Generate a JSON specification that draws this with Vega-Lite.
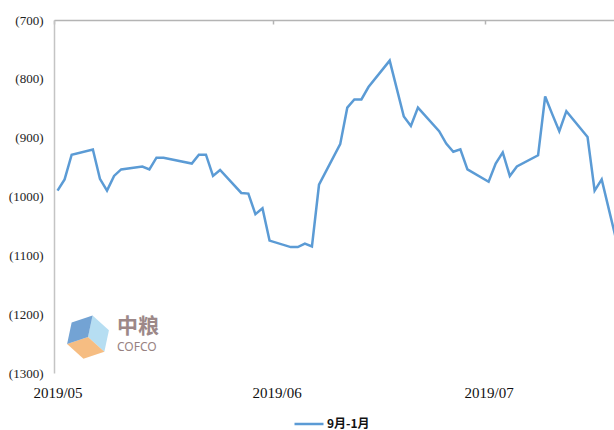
{
  "$schema": "https://vega.github.io/schema/vega-lite/v6.json",
  "autosize": "none",
  "width": 560,
  "height": 353,
  "padding": {"left": 54, "top": 20, "right": 0, "bottom": 57},
  "background": "#ffffff",
  "config": {"view": {"stroke": null}},
  "datasets": {
    "spread": [
      {"date": "2019-05-01", "value": -990},
      {"date": "2019-05-02", "value": -971},
      {"date": "2019-05-03", "value": -929},
      {"date": "2019-05-06", "value": -920},
      {"date": "2019-05-07", "value": -970},
      {"date": "2019-05-08", "value": -990},
      {"date": "2019-05-09", "value": -965},
      {"date": "2019-05-10", "value": -954},
      {"date": "2019-05-13", "value": -949},
      {"date": "2019-05-14", "value": -954},
      {"date": "2019-05-15", "value": -934},
      {"date": "2019-05-16", "value": -934},
      {"date": "2019-05-20", "value": -944},
      {"date": "2019-05-21", "value": -929},
      {"date": "2019-05-22", "value": -929},
      {"date": "2019-05-23", "value": -965},
      {"date": "2019-05-24", "value": -955},
      {"date": "2019-05-27", "value": -994},
      {"date": "2019-05-28", "value": -995},
      {"date": "2019-05-29", "value": -1030},
      {"date": "2019-05-30", "value": -1020},
      {"date": "2019-05-31", "value": -1075},
      {"date": "2019-06-03", "value": -1086},
      {"date": "2019-06-04", "value": -1086},
      {"date": "2019-06-05", "value": -1080},
      {"date": "2019-06-06", "value": -1085},
      {"date": "2019-06-07", "value": -980},
      {"date": "2019-06-10", "value": -911},
      {"date": "2019-06-11", "value": -849},
      {"date": "2019-06-12", "value": -835},
      {"date": "2019-06-13", "value": -835},
      {"date": "2019-06-14", "value": -814},
      {"date": "2019-06-17", "value": -769},
      {"date": "2019-06-19", "value": -864},
      {"date": "2019-06-20", "value": -880},
      {"date": "2019-06-21", "value": -849},
      {"date": "2019-06-24", "value": -889},
      {"date": "2019-06-25", "value": -910},
      {"date": "2019-06-26", "value": -924},
      {"date": "2019-06-27", "value": -920},
      {"date": "2019-06-28", "value": -954},
      {"date": "2019-07-01", "value": -975},
      {"date": "2019-07-02", "value": -944},
      {"date": "2019-07-03", "value": -925},
      {"date": "2019-07-04", "value": -965},
      {"date": "2019-07-05", "value": -949},
      {"date": "2019-07-08", "value": -930},
      {"date": "2019-07-09", "value": -830},
      {"date": "2019-07-10", "value": -860},
      {"date": "2019-07-11", "value": -889},
      {"date": "2019-07-12", "value": -855},
      {"date": "2019-07-15", "value": -899},
      {"date": "2019-07-16", "value": -990},
      {"date": "2019-07-17", "value": -971},
      {"date": "2019-07-18", "value": -1021},
      {"date": "2019-07-19", "value": -1071}
    ]
  },
  "resolve": {"axis": {"x": "independent", "y": "independent"}},
  "layer": [
    {
      "data": {"values": [{}]},
      "mark": {"type": "point", "filled": true, "opacity": 0.85, "strokeWidth": 0, "size": 1936, "angle": 12, "shape": "M0,-1L0.866,-0.5L0.866,0.5L0,0Z", "color": "#a9d8f0"},
      "encoding": {
        "x": {"datum": {"year": 2019, "month": 5, "date": 5, "hours": 7, "minutes": 30}, "type": "temporal", "axis": null},
        "y": {"datum": -1239, "type": "quantitative", "axis": null}
      }
    },
    {
      "data": {"values": [{}]},
      "mark": {"type": "point", "filled": true, "opacity": 0.85, "strokeWidth": 0, "size": 1936, "angle": 12, "shape": "M0.866,0.5L0,1L-0.866,0.5L0,0Z", "color": "#f4b26c"},
      "encoding": {
        "x": {"datum": {"year": 2019, "month": 5, "date": 5, "hours": 7, "minutes": 30}, "type": "temporal", "axis": null},
        "y": {"datum": -1239, "type": "quantitative", "axis": null}
      }
    },
    {
      "data": {"values": [{}]},
      "mark": {"type": "point", "filled": true, "opacity": 0.85, "strokeWidth": 0, "size": 1936, "angle": 12, "shape": "M-0.866,0.5L-0.866,-0.5L0,-1L0,0Z", "color": "#5b93cc"},
      "encoding": {
        "x": {"datum": {"year": 2019, "month": 5, "date": 5, "hours": 7, "minutes": 30}, "type": "temporal", "axis": null},
        "y": {"datum": -1239, "type": "quantitative", "axis": null}
      }
    },
    {
      "data": {"values": [{}]},
      "mark": {"type": "text", "text": "中粮", "font": "Noto Sans CJK SC", "fontSize": 21, "fontWeight": "bold", "color": "#8c7474", "align": "left", "baseline": "middle", "opacity": 0.85},
      "encoding": {
        "x": {"datum": {"year": 2019, "month": 5, "date": 9, "hours": 10}, "type": "temporal", "axis": null},
        "y": {"datum": -1222, "type": "quantitative", "axis": null}
      }
    },
    {
      "data": {"values": [{}]},
      "mark": {"type": "text", "text": "COFCO", "font": "Noto Sans", "fontSize": 12, "color": "#8c7474", "align": "left", "baseline": "middle", "opacity": 0.9},
      "encoding": {
        "x": {"datum": {"year": 2019, "month": 5, "date": 9, "hours": 10}, "type": "temporal", "axis": null},
        "y": {"datum": -1256, "type": "quantitative", "axis": null}
      }
    },
    {
      "data": {"values": [{}]},
      "mark": {"type": "rule", "opacity": 0},
      "encoding": {
        "x": {
          "datum": {"year": 2019, "month": 5, "date": 1},
          "type": "temporal",
          "axis": {"orient": "bottom", "offset": -353, "labels": false, "title": null, "domainColor": "#b4b4b4", "domainWidth": 1.5, "tickColor": "#b4b4b4", "tickWidth": 1.5, "tickSize": 4, "tickOffset": -3.5, "tickCount": {"interval": "month", "step": 1}, "grid": false}
        },
        "y": {"datum": -1300, "type": "quantitative", "axis": null}
      }
    },
    {
      "data": {"name": "spread", "format": {"parse": {"date": "date:'%Y-%m-%d'"}}},
      "mark": {"type": "line", "strokeWidth": 2.5, "clip": true},
      "encoding": {
        "x": {
          "field": "date",
          "type": "temporal",
          "scale": {"domain": [{"year": 2019, "month": 4, "date": 30, "hours": 12}, {"year": 2019, "month": 7, "date": 18, "hours": 17, "minutes": 48}], "nice": false},
          "axis": {"orient": "bottom", "title": null, "domain": false, "ticks": false, "grid": false, "format": "%Y/%m", "tickCount": {"interval": "month", "step": 1}, "labelFlush": false, "labelOverlap": false, "labelBound": false, "labelFont": "Liberation Serif", "labelFontSize": 15, "labelColor": "#111111", "labelPadding": 12}
        },
        "y": {
          "field": "value",
          "type": "quantitative",
          "scale": {"domain": [-1300, -700], "nice": false, "zero": false},
          "axis": {"orient": "left", "title": null, "grid": false, "ticks": false, "values": [-1300, -1200, -1100, -1000, -900, -800, -700], "labelExpr": "'(' + format(abs(datum.value), 'd') + ')'", "domainColor": "#c4c4c4", "domainWidth": 1.5, "labelFont": "Liberation Serif", "labelFontSize": 13, "labelColor": "#222222", "labelPadding": 11}
        },
        "color": {
          "datum": "9月-1月",
          "type": "nominal",
          "scale": {"range": ["#5b9bd5"]},
          "legend": {"title": null, "orient": "none", "legendX": 239, "legendY": 388, "symbolType": "stroke", "symbolSize": 841, "symbolStrokeWidth": 2.5, "labelFont": "Noto Sans CJK SC", "labelFontSize": 12, "labelFontWeight": "bold", "labelColor": "#111111", "labelOffset": 2}
        }
      }
    }
  ]
}
